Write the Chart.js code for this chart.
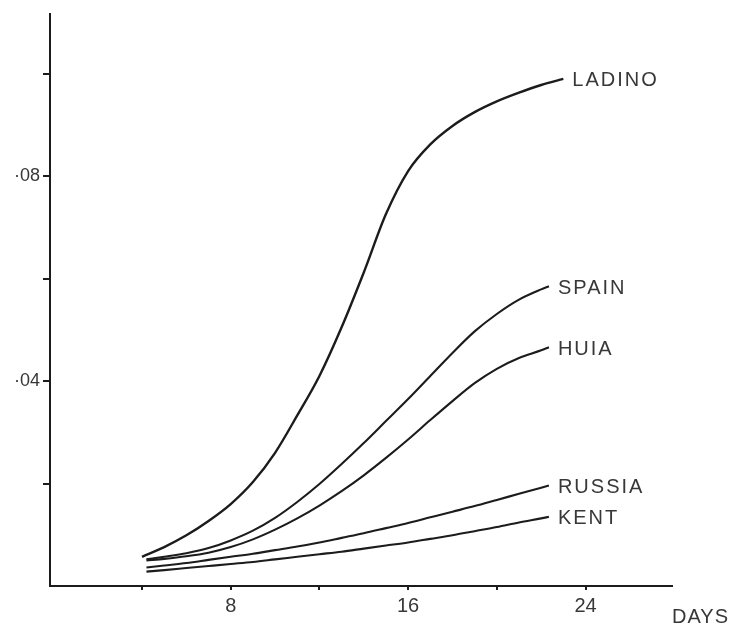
<!DOCTYPE html>
<html>
<head>
<meta charset="utf-8">
<script src="https://cdn.jsdelivr.net/npm/chart.js@4/dist/chart.umd.min.js"></script>
<style>
  html, body { margin: 0; padding: 0; background: #ffffff; }
  canvas { display: block; }
</style>
</head>
<body>
<canvas id="growth" width="735" height="631" style="width:735px;height:631px"></canvas>
<script>
// Growth of five clover varieties over time (days after sowing)
const ladinoDays = [4.0, 5, 6, 7, 8, 9, 10, 11, 12, 13, 14, 15, 16, 17, 18, 19, 20, 21, 22, 23.0];
const otherDays  = [4.2, 5, 6, 7, 8, 9, 10, 11, 12, 13, 14, 15, 16, 17, 18, 19, 20, 21, 22, 22.35];

const ladino = [0.0057, 0.0076, 0.0099, 0.0127, 0.0160, 0.0203, 0.0260, 0.0333, 0.0410, 0.0505, 0.0612, 0.0726, 0.0810, 0.0862, 0.0898, 0.0925, 0.0946, 0.0963, 0.0978, 0.0990];
const spain  = [0.0052, 0.0057, 0.0064, 0.0074, 0.0089, 0.0108, 0.0133, 0.0164, 0.0199, 0.0238, 0.0279, 0.0322, 0.0365, 0.0410, 0.0455, 0.0497, 0.0531, 0.0559, 0.0579, 0.0585];
const huia   = [0.0050, 0.0053, 0.0058, 0.0065, 0.0076, 0.0091, 0.0110, 0.0132, 0.0157, 0.0185, 0.0216, 0.0250, 0.0286, 0.0324, 0.0361, 0.0396, 0.0424, 0.0445, 0.0460, 0.0466];
const russia = [0.0036, 0.0040, 0.0045, 0.0051, 0.0057, 0.0063, 0.0070, 0.0077, 0.0085, 0.0094, 0.0103, 0.0113, 0.0123, 0.0134, 0.0145, 0.0156, 0.0168, 0.0180, 0.0192, 0.0196];
const kent   = [0.0028, 0.0031, 0.0035, 0.0039, 0.0043, 0.0047, 0.0052, 0.0057, 0.0062, 0.0067, 0.0073, 0.0079, 0.0085, 0.0092, 0.0099, 0.0107, 0.0115, 0.0124, 0.0132, 0.0135];

const seriesNames = ['LADINO', 'SPAIN', 'HUIA', 'RUSSIA', 'KENT'];
const xLabelled = [8, 16, 24];
const yLabels = { 4: '·04', 8: '·08' };
const axisTitle = 'DAYS';

const ink = '#1c1c1c';
const textInk = '#383838';
const labelFont = '20px "Liberation Sans", Arial, sans-serif';

function toPoints(days, values) {
  return days.map((d, i) => ({ x: d, y: values[i] }));
}

function series(name, days, values, width) {
  return {
    label: name,
    data: toPoints(days, values),
    borderColor: ink,
    borderWidth: width,
    pointRadius: 0,
    fill: false,
    cubicInterpolationMode: 'monotone'
  };
}

// Writes each variety's name just past the end of its curve, plus the x-axis title
const endLabels = {
  id: 'endLabels',
  afterDatasetsDraw(chart) {
    const ctx = chart.ctx;
    ctx.save();
    ctx.font = labelFont;
    ctx.fillStyle = textInk;
    ctx.textAlign = 'left';
    ctx.textBaseline = 'middle';
    if ('letterSpacing' in ctx) ctx.letterSpacing = '2px';
    chart.data.datasets.forEach((ds, i) => {
      const pts = chart.getDatasetMeta(i).data;
      const last = pts[pts.length - 1];
      ctx.fillText(ds.label, last.x + 9, last.y + 2);
    });
    if ('letterSpacing' in ctx) ctx.letterSpacing = '1px';
    ctx.textBaseline = 'alphabetic';
    const a = chart.chartArea;
    ctx.fillText(axisTitle, a.right, a.bottom + 37);
    ctx.restore();
  }
};

new Chart(document.getElementById('growth'), {
  type: 'line',
  data: {
    datasets: [
      series(seriesNames[0], ladinoDays, ladino, 2.4),
      series(seriesNames[1], otherDays, spain, 2.1),
      series(seriesNames[2], otherDays, huia, 2.1),
      series(seriesNames[3], otherDays, russia, 2.1),
      series(seriesNames[4], otherDays, kent, 2.1)
    ]
  },
  options: {
    responsive: false,
    animation: false,
    devicePixelRatio: 1,
    layout: { padding: { top: 8, right: 63, left: 0, bottom: 0 } },
    plugins: { legend: { display: false }, tooltip: { enabled: false } },
    scales: {
      x: {
        type: 'linear',
        min: -0.15,
        max: 27.9,
        afterFit(scale) { scale.height = 45; },
        border: { display: true, color: ink, width: 2 },
        grid: {
          drawOnChartArea: false,
          drawTicks: true,
          tickLength: 4,
          lineWidth: 2,
          color: (c) => (c.tick && c.tick.value === 0 ? 'rgba(0,0,0,0)' : ink)
        },
        ticks: {
          stepSize: 4,
          includeBounds: false,
          autoSkip: false,
          maxRotation: 0,
          padding: 4,
          color: textInk,
          font: { family: '"Liberation Sans", Arial, sans-serif', size: 20 },
          callback: (v) => (xLabelled.includes(v) ? String(v) : '')
        }
      },
      y: {
        type: 'linear',
        min: 0,
        max: 0.1117,
        afterFit(scale) { scale.width = 50; },
        border: { display: true, color: ink, width: 2 },
        grid: {
          drawOnChartArea: false,
          drawTicks: true,
          tickLength: 7,
          lineWidth: 2,
          color: (c) => (c.tick && c.tick.value === 0 ? 'rgba(0,0,0,0)' : ink)
        },
        ticks: {
          stepSize: 0.02,
          includeBounds: false,
          autoSkip: false,
          padding: 3,
          color: textInk,
          font: { family: '"Liberation Sans", Arial, sans-serif', size: 18 },
          callback: (v) => yLabels[Math.round(v * 100)] || ''
        }
      }
    }
  },
  plugins: [endLabels]
});
</script>
</body>
</html>
